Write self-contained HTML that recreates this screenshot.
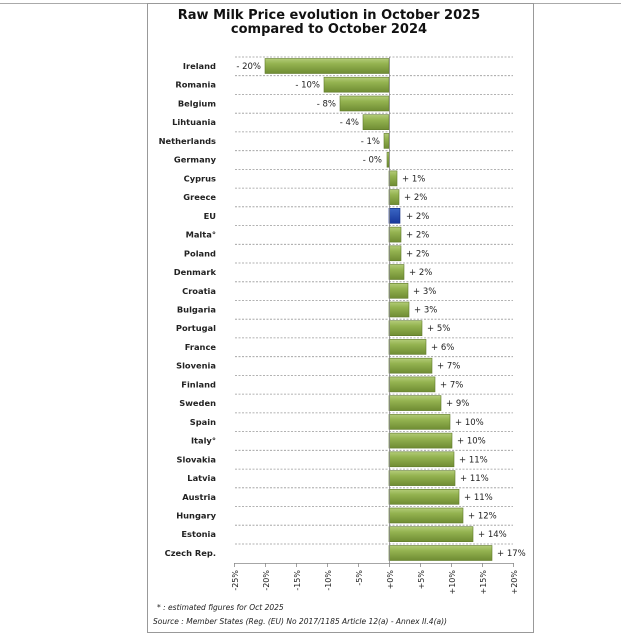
<!DOCTYPE html>
<html><head><meta charset="utf-8"><style>
html,body{margin:0;padding:0;background:#fff;}
svg{display:block;}
.l{font-family:"DejaVu Sans","Liberation Sans",sans-serif;font-size:8.3px;font-weight:bold;fill:#222;text-anchor:end;}
.v{font-family:"DejaVu Sans","Liberation Sans",sans-serif;font-size:8.5px;fill:#222;}
.t{font-family:"DejaVu Sans","Liberation Sans",sans-serif;font-size:8px;fill:#222;}
</style></head><body>
<svg width="621" height="635" viewBox="0 0 621 635" xmlns="http://www.w3.org/2000/svg">
<defs>
<linearGradient id="g" x1="0" y1="0" x2="0" y2="1"><stop offset="0" stop-color="#b3cc78"/><stop offset="0.35" stop-color="#94b350"/><stop offset="1" stop-color="#6f8c33"/></linearGradient>
<linearGradient id="b" x1="0" y1="0" x2="0" y2="1"><stop offset="0" stop-color="#3a66c4"/><stop offset="1" stop-color="#17379a"/></linearGradient>
</defs>
<line x1="0" y1="3.5" x2="621" y2="3.5" stroke="#aaa"/>
<rect x="147.5" y="3.5" width="386" height="629" fill="#fff" stroke="#999"/>
<text x="329" y="19" text-anchor="middle" font-family="DejaVu Sans,Liberation Sans,sans-serif" font-weight="bold" font-size="13" fill="#111">Raw Milk Price evolution in October 2025</text>
<text x="329" y="33" text-anchor="middle" font-family="DejaVu Sans,Liberation Sans,sans-serif" font-weight="bold" font-size="13" fill="#111">compared to October 2024</text>
<g stroke="#999" stroke-dasharray="2,1.5" stroke-width="0.8">
<line x1="235" x2="513" y1="57" y2="57"/><line x1="235" x2="513" y1="75.7" y2="75.7"/><line x1="235" x2="513" y1="94.5" y2="94.5"/><line x1="235" x2="513" y1="113.2" y2="113.2"/><line x1="235" x2="513" y1="131.9" y2="131.9"/><line x1="235" x2="513" y1="150.7" y2="150.7"/><line x1="235" x2="513" y1="169.4" y2="169.4"/><line x1="235" x2="513" y1="188.1" y2="188.1"/><line x1="235" x2="513" y1="206.8" y2="206.8"/><line x1="235" x2="513" y1="225.6" y2="225.6"/><line x1="235" x2="513" y1="244.3" y2="244.3"/><line x1="235" x2="513" y1="263" y2="263"/><line x1="235" x2="513" y1="281.8" y2="281.8"/><line x1="235" x2="513" y1="300.5" y2="300.5"/><line x1="235" x2="513" y1="319.2" y2="319.2"/><line x1="235" x2="513" y1="337.9" y2="337.9"/><line x1="235" x2="513" y1="356.7" y2="356.7"/><line x1="235" x2="513" y1="375.4" y2="375.4"/><line x1="235" x2="513" y1="394.1" y2="394.1"/><line x1="235" x2="513" y1="412.9" y2="412.9"/><line x1="235" x2="513" y1="431.6" y2="431.6"/><line x1="235" x2="513" y1="450.3" y2="450.3"/><line x1="235" x2="513" y1="469.1" y2="469.1"/><line x1="235" x2="513" y1="487.8" y2="487.8"/><line x1="235" x2="513" y1="506.5" y2="506.5"/><line x1="235" x2="513" y1="525.2" y2="525.2"/><line x1="235" x2="513" y1="544" y2="544"/>
</g>
<g stroke="#5f7a2a" stroke-width="0.6" fill="url(#g)">
<rect x="265" y="58.5" width="124" height="15"/>
<rect x="324" y="77.2" width="65" height="15"/>
<rect x="340" y="96" width="49" height="15"/>
<rect x="363" y="114.7" width="26" height="15"/>
<rect x="384" y="133.4" width="5" height="15"/>
<rect x="387" y="152.2" width="2" height="15"/>
<rect x="389" y="170.9" width="8" height="15"/>
<rect x="389" y="189.6" width="10" height="15"/>
<rect x="389" y="227.1" width="12" height="15"/>
<rect x="389" y="245.8" width="12" height="15"/>
<rect x="389" y="264.5" width="15" height="15"/>
<rect x="389" y="283.3" width="19" height="15"/>
<rect x="389" y="302" width="20" height="15"/>
<rect x="389" y="320.7" width="33" height="15"/>
<rect x="389" y="339.4" width="37" height="15"/>
<rect x="389" y="358.2" width="43" height="15"/>
<rect x="389" y="376.9" width="46" height="15"/>
<rect x="389" y="395.6" width="52" height="15"/>
<rect x="389" y="414.4" width="61" height="15"/>
<rect x="389" y="433.1" width="63" height="15"/>
<rect x="389" y="451.8" width="65" height="15"/>
<rect x="389" y="470.6" width="66" height="15"/>
<rect x="389" y="489.3" width="70" height="15"/>
<rect x="389" y="508" width="74" height="15"/>
<rect x="389" y="526.7" width="84" height="15"/>
<rect x="389" y="545.5" width="103" height="15"/>
</g>
<rect x="389" y="208.3" width="11" height="15" fill="url(#b)" stroke="#102a80" stroke-width="0.6"/>
<g class="l">
<text x="216" y="69">Ireland</text><text x="216" y="87.7">Romania</text><text x="216" y="106.5">Belgium</text><text x="216" y="125.2">Lihtuania</text><text x="216" y="143.9">Netherlands</text><text x="216" y="162.7">Germany</text><text x="216" y="181.4">Cyprus</text><text x="216" y="200.1">Greece</text><text x="216" y="218.8">EU</text><text x="216" y="237.6">Malta°</text><text x="216" y="256.3">Poland</text><text x="216" y="275">Denmark</text><text x="216" y="293.8">Croatia</text><text x="216" y="312.5">Bulgaria</text><text x="216" y="331.2">Portugal</text><text x="216" y="349.9">France</text><text x="216" y="368.7">Slovenia</text><text x="216" y="387.4">Finland</text><text x="216" y="406.1">Sweden</text><text x="216" y="424.9">Spain</text><text x="216" y="443.6">Italy°</text><text x="216" y="462.3">Slovakia</text><text x="216" y="481.1">Latvia</text><text x="216" y="499.8">Austria</text><text x="216" y="518.5">Hungary</text><text x="216" y="537.2">Estonia</text><text x="216" y="556">Czech Rep.</text>
</g>
<g class="v">
<text x="261" y="69" text-anchor="end">- 20%</text>
<text x="320" y="87.7" text-anchor="end">- 10%</text>
<text x="336" y="106.5" text-anchor="end">- 8%</text>
<text x="359" y="125.2" text-anchor="end">- 4%</text>
<text x="380" y="143.9" text-anchor="end">- 1%</text>
<text x="382" y="162.7" text-anchor="end">- 0%</text>
<text x="402" y="181.4">+ 1%</text><text x="404" y="200.1">+ 2%</text><text x="406" y="218.8">+ 2%</text><text x="406" y="237.6">+ 2%</text><text x="406" y="256.3">+ 2%</text><text x="409" y="275">+ 2%</text><text x="413" y="293.8">+ 3%</text><text x="414" y="312.5">+ 3%</text><text x="427" y="331.2">+ 5%</text><text x="431" y="349.9">+ 6%</text><text x="437" y="368.7">+ 7%</text><text x="440" y="387.4">+ 7%</text><text x="446" y="406.1">+ 9%</text><text x="455" y="424.9">+ 10%</text><text x="457" y="443.6">+ 10%</text><text x="459" y="462.3">+ 11%</text><text x="460" y="481.1">+ 11%</text><text x="464" y="499.8">+ 11%</text><text x="468" y="518.5">+ 12%</text><text x="478" y="537.2">+ 14%</text><text x="497" y="556">+ 17%</text>
</g>
<line x1="389.5" y1="57" x2="389.5" y2="563" stroke="#888" stroke-width="0.8"/>
<line x1="234" y1="563.5" x2="514" y2="563.5" stroke="#888" stroke-width="0.8"/>
<g stroke="#888" stroke-width="0.8">
<line x1="234.5" x2="234.5" y1="563" y2="567"/><line x1="265.5" x2="265.5" y1="563" y2="567"/><line x1="296.5" x2="296.5" y1="563" y2="567"/><line x1="327.5" x2="327.5" y1="563" y2="567"/><line x1="358.5" x2="358.5" y1="563" y2="567"/><line x1="389.5" x2="389.5" y1="563" y2="567"/><line x1="420.5" x2="420.5" y1="563" y2="567"/><line x1="451.5" x2="451.5" y1="563" y2="567"/><line x1="482.5" x2="482.5" y1="563" y2="567"/><line x1="513.5" x2="513.5" y1="563" y2="567"/>
</g>
<g class="t" text-anchor="end">
<text transform="translate(238,570) rotate(-90)">-25%</text>
<text transform="translate(269,570) rotate(-90)">-20%</text>
<text transform="translate(300,570) rotate(-90)">-15%</text>
<text transform="translate(331,570) rotate(-90)">-10%</text>
<text transform="translate(362,570) rotate(-90)">-5%</text>
<text transform="translate(393,570) rotate(-90)">+0%</text>
<text transform="translate(424,570) rotate(-90)">+5%</text>
<text transform="translate(455,570) rotate(-90)">+10%</text>
<text transform="translate(486,570) rotate(-90)">+15%</text>
<text transform="translate(517,570) rotate(-90)">+20%</text>
</g>
<text x="157" y="610" font-family="DejaVu Sans,Liberation Sans,sans-serif" font-size="7.5" font-style="italic" fill="#222">* : estimated figures for Oct 2025</text>
<text x="153" y="624" font-family="DejaVu Sans,Liberation Sans,sans-serif" font-size="7.5" font-style="italic" fill="#222">Source : Member States (Reg. (EU) No 2017/1185 Article 12(a) - Annex II.4(a))</text>
</svg>
</body></html>
